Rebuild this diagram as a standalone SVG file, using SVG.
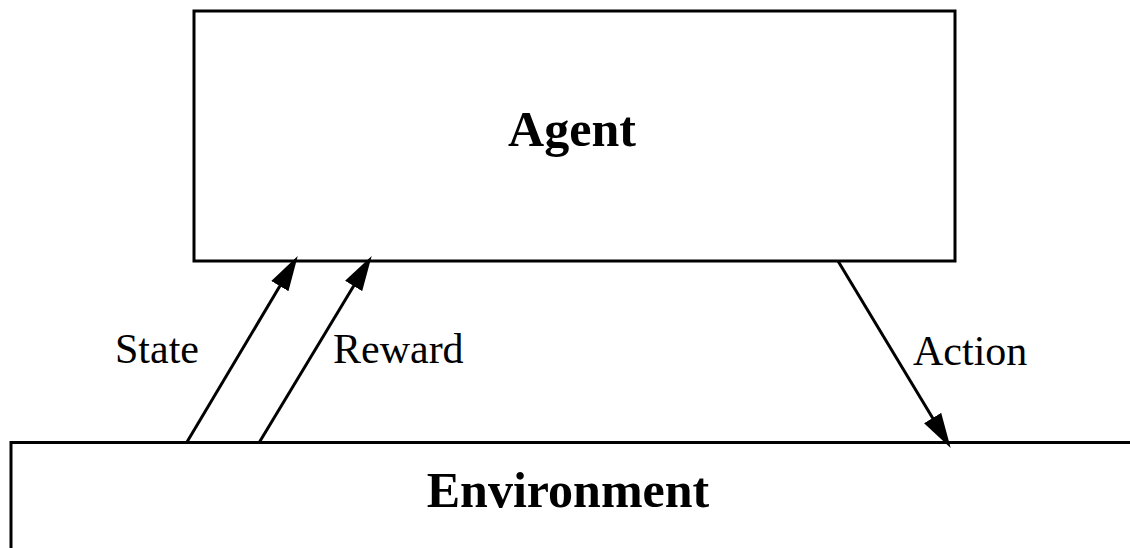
<svg xmlns="http://www.w3.org/2000/svg" width="1130" height="548" viewBox="0 0 1130 548">
<style>
.box{fill:#fff;stroke:#000;stroke-width:3}
.conn{stroke:#000;stroke-width:3;fill:none}
.title{font-family:"Liberation Serif","Times New Roman",serif;font-weight:bold;font-size:50px;fill:#000;text-anchor:middle}
.lbl{font-family:"Liberation Serif","Times New Roman",serif;font-size:42px;fill:#000}
</style>
<defs>
<marker id="arr" markerUnits="userSpaceOnUse" markerWidth="36" markerHeight="22" viewBox="0 0 36 22" refX="5" refY="11" orient="auto">
<path d="M0,1 L35,11 L0,21 z" fill="#000"/>
</marker>
</defs>
<rect width="1130" height="548" fill="#fff"/>
<g id="agent">
<rect class="box" x="194" y="11" width="761" height="250"/>
<text class="title" x="572" y="146">Agent</text>
</g>
<g id="environment">
<rect class="box" x="11" y="442.5" width="1200" height="200"/>
<text class="title" x="568" y="507">Environment</text>
</g>
<g id="connectors">
<line class="conn" x1="187" y1="442" x2="282.4" y2="281.8" marker-end="url(#arr)"/>
<line class="conn" x1="259.5" y1="442" x2="356.2" y2="281.7" marker-end="url(#arr)"/>
<line class="conn" x1="838" y1="261" x2="935.2" y2="422.3" marker-end="url(#arr)"/>
<text class="lbl" x="115" y="363">State</text>
<text class="lbl" x="333" y="363">Reward</text>
<text class="lbl" x="913" y="365">Action</text>
</g>
</svg>
